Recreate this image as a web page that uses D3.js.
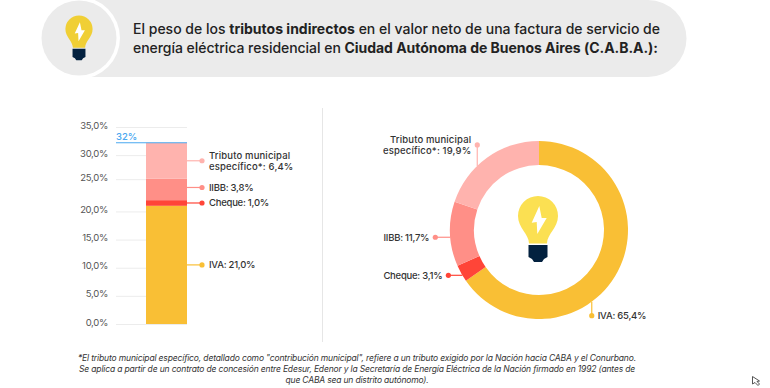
<!DOCTYPE html>
<html>
<head>
<meta charset="utf-8">
<script src="https://cdn.jsdelivr.net/npm/d3@7"></script>
<style>
  html, body { margin: 0; padding: 0; background: #fff; }
  svg { display: block; }
  text { font-family: Inter, "Open Sans", sans-serif; }
</style>
</head>
<body>
<svg id="chart" width="770" height="388"></svg>
<script>
var categories = ['IVA', 'Cheque', 'IIBB', 'Tributo municipal especifico'];
var barValues = [21.0, 1.0, 3.8, 6.4];
var pieValues = [65.4, 3.1, 11.7, 19.9];
var yTicks = [0, 5, 10, 15, 20, 25, 30, 35];
var totalLabel = '32%';
var barLabels = [['IVA: 21,0%'], ['Cheque: 1,0%'], ['IIBB: 3,8%'], ['Tributo municipal', 'específico*: 6,4%']];
var pieLabels = [['IVA: 65,4%'], ['Cheque: 3,1%'], ['IIBB: 11,7%'], ['Tributo municipal', 'específico*: 19,9%']];
var colors = ['#f9bf35', '#ff4538', '#ff8f87', '#ffb3ae'];

var titleLines = [
  [['El peso de los ', 500], ['tributos indirectos', 700], [' en el valor neto de una factura de servicio de', 500]],
  [['energía eléctrica residencial en ', 500], ['Ciudad Autónoma de Buenos Aires (C.A.B.A.):', 700]]
];
var footLines = [
  '*El tributo municipal específico, detallado como "contribución municipal", refiere a un tributo exigido por la Nación hacia CABA y el Conurbano.',
  'Se aplica a partir de un contrato de concesión entre Edesur, Edenor y la Secretaría de Energía Eléctrica de la Nación firmado en 1992 (antes de',
  'que CABA sea un distrito autónomo).'
];

var svg = d3.select('#chart');

// squeeze or stretch a line to the width it has in the picture
function fit(sel, width) {
  var len = sel.node().getComputedTextLength();
  var n = sel.text().length;
  sel.style('letter-spacing', ((width - len) / n) + 'px');
}

function bulb(g, headColor) {
  g.append('path').attr('fill', headColor)
    .attr('d', 'M-9,27.5 C-9,18 -20,12 -20,0 A20,20 0 1 1 20,0 C20,12 9,18 9,27.5 Z');
  g.append('path').attr('fill', '#fff')
    .attr('d', 'M1.3,-10 L-6.3,6.7 L-1.3,6 L-0.7,18 L8.7,2 L3.7,2 Z');
  g.append('path').attr('fill', '#03213f')
    .attr('d', 'M-9.5,29 H9.5 V41 L6,43 L4,46 H-4 L-6,43 L-9.5,41 Z');
}

/* header */
svg.append('path').attr('fill', '#ebebeb')
  .attr('d', 'M79,0 H648 A38.5,38.5 0 0 1 648,77 H79 Z');
svg.append('circle').attr('cx', 79).attr('cy', 38).attr('r', 41).attr('fill', '#fff');
svg.append('circle').attr('cx', 79).attr('cy', 38).attr('r', 37.5).attr('fill', '#ebebeb');
bulb(svg.append('g').attr('transform', 'translate(79,29) scale(0.68)'), '#f0cf35');

var titleWidths = [527, 525];
titleLines.forEach(function(line, i) {
  var t = svg.append('text').attr('x', 133).attr('y', 34 + i * 19)
    .attr('font-size', 14).attr('fill', '#222');
  line.forEach(function(part) {
    t.append('tspan').attr('font-weight', part[1]).text(part[0]);
  });
  fit(t, titleWidths[i]);
});

/* divider */
svg.append('line').attr('x1', 322.5).attr('x2', 322.5).attr('y1', 108).attr('y2', 342)
  .attr('stroke', '#e6e6e6');

/* stacked bar */
var y = d3.scaleLinear().domain([0, 35]).range([324, 127]);
var barLeft = 146, barRight = 187;

var axis = svg.append('g')
  .attr('transform', 'translate(' + barRight + ',0)')
  .call(d3.axisLeft(y).tickValues(yTicks).tickSize(barRight - 116).tickPadding(8)
    .tickFormat(function(d) { return d3.format('.1f')(d).replace('.', ',') + '%'; }));
axis.select('.domain').remove();
axis.selectAll('line').attr('stroke', '#ececec');
axis.selectAll('text').attr('font-size', 9.5).attr('fill', '#555').attr('dy', '0.12em')
  .style('font-family', 'Inter, sans-serif').style('letter-spacing', '-0.3px');
// the 25% tick sits a little high in the original
axis.selectAll('.tick').filter(function(d) { return d === 25; })
  .attr('transform', 'translate(0,' + (y(25) - 3.6) + ')');

var start = 0;
var stacked = barValues.map(function(v) {
  var d = { y0: start, y1: start + v };
  start += v;
  return d;
});

svg.selectAll('.bar').data(stacked).enter().append('rect')
  .attr('class', 'bar')
  .attr('x', barLeft)
  .attr('width', barRight - barLeft)
  .attr('y', function(d) { return y(d.y1); })
  .attr('height', function(d) { return y(d.y0) - y(d.y1); })
  .attr('fill', function(d, i) { return colors[i]; });

svg.append('line').attr('x1', 116).attr('x2', barRight)
  .attr('y1', y(start)).attr('y2', y(start))
  .attr('stroke', '#4aa8f0').attr('stroke-width', 1.2);
svg.append('text').attr('x', 116).attr('y', y(start) - 3).attr('font-size', 9.5)
  .attr('font-weight', 500).attr('fill', '#4aa8f0').text(totalLabel);

function label(x, yc, lines, anchor) {
  var t = svg.append('text').attr('text-anchor', anchor).attr('font-size', 9.5)
    .attr('font-weight', 500).attr('fill', '#333')
    .style('letter-spacing', lines.length > 1 ? '0.15px' : '-0.25px');
  lines.forEach(function(s, i) {
    t.append('tspan').attr('x', x)
      .attr('y', yc + 3.5 + (i - (lines.length - 1) / 2) * 10.5).text(s);
  });
}

stacked.forEach(function(d, i) {
  var yc = y((d.y0 + d.y1) / 2);
  if (i === 2) yc -= 2;
  svg.append('line').attr('x1', barRight).attr('x2', 202).attr('y1', yc).attr('y2', yc)
    .attr('stroke', colors[i]).attr('stroke-width', 1.2);
  svg.append('circle').attr('cx', 202).attr('cy', yc).attr('r', 2.6).attr('fill', colors[i]);
  label(209, yc, barLabels[i], 'start');
});

/* donut */
var cx = 539, cy = 230, rOut = 89, rIn = 65;
var ring = svg.append('g').attr('transform', 'translate(' + cx + ',' + cy + ')');
var pie = d3.pie().sort(null).value(function(d) { return d; });
var arc = d3.arc().innerRadius(rIn).outerRadius(rOut);

ring.selectAll('path').data(pie(pieValues)).enter().append('path')
  .attr('d', arc)
  .attr('fill', function(d, i) { return colors[i]; });

bulb(svg.append('g').attr('transform', 'translate(538,216)'), '#fbe052');

// where each leader leaves the ring: share of the way round, direction and length
var leaders = [
  { at: 0.399, dx: 0, dy: 14, textX: 6, textY: 0, anchor: 'start' },
  { at: 0.665, dx: -14, dy: 0, textX: -6, textY: 0, anchor: 'end' },
  { at: 0.737, dx: -15, dy: 0, textX: -6, textY: 0, anchor: 'end' },
  { at: 0.878, dx: 0, dy: -21, textX: -6, textY: 0, anchor: 'end' }
];
leaders.forEach(function(l, i) {
  var a = l.at * 2 * Math.PI;
  var x0 = cx + rOut * Math.sin(a);
  var y0 = cy - rOut * Math.cos(a);
  var x1 = x0 + l.dx, y1 = y0 + l.dy;
  svg.append('line').attr('x1', x0).attr('y1', y0).attr('x2', x1).attr('y2', y1)
    .attr('stroke', colors[i]).attr('stroke-width', 1.2);
  svg.append('circle').attr('cx', x1).attr('cy', y1).attr('r', 2.6).attr('fill', colors[i]);
  label(x1 + l.textX, y1 + l.textY, pieLabels[i], l.anchor);
});

/* footnote */
var footWidths = [558, 556, 143];
footLines.forEach(function(s, i) {
  var t = svg.append('text').attr('x', 357).attr('y', 361 + i * 11)
    .attr('text-anchor', 'middle').attr('font-size', 8.5)
    .attr('font-style', 'italic').attr('fill', '#333').text(s);
  fit(t, footWidths[i]);
});

/* mouse pointer caught in the screenshot */
svg.append('path').attr('fill', '#fff').attr('stroke', '#555')
  .attr('d', 'M752.5,376.5 V384 L755,382.5 L758,385.5 L759.5,384 L757,381.5 L759.5,381 Z');
</script>
</body>
</html>
